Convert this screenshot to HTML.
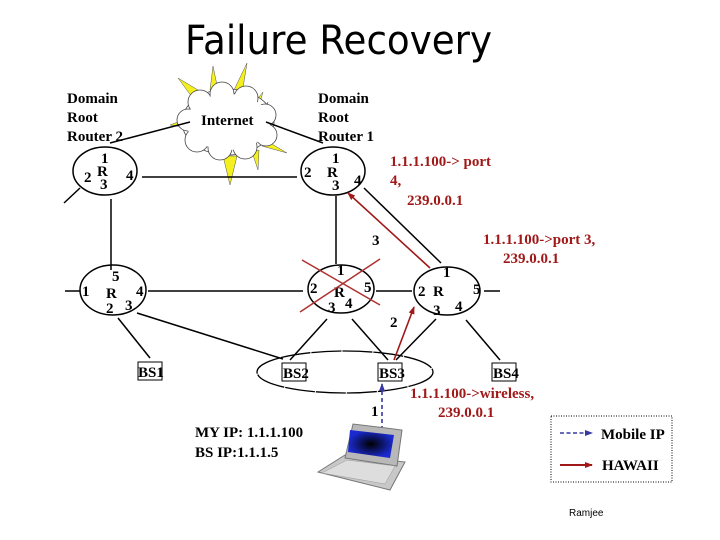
<!DOCTYPE html>
<html><head><meta charset="utf-8"><style>
html,body{margin:0;padding:0;background:#fff;width:720px;height:540px;overflow:hidden}
svg text{font-family:"Liberation Serif",serif;font-weight:bold;font-size:15px}
</style></head><body>
<svg width="720" height="540" viewBox="0 0 720 540" xmlns="http://www.w3.org/2000/svg">
<defs>
<marker id="ar" markerWidth="8" markerHeight="8" refX="7" refY="4" orient="auto" markerUnits="userSpaceOnUse"><path d="M0,1 L8,4 L0,7z" fill="#a01818"/></marker>
<marker id="ab" markerWidth="8" markerHeight="8" refX="7" refY="4" orient="auto" markerUnits="userSpaceOnUse"><path d="M0,1 L8,4 L0,7z" fill="#3838a0"/></marker>
<radialGradient id="scr"><stop offset="0" stop-color="#000"/><stop offset="1" stop-color="#1a2ad0"/></radialGradient>
</defs>
<text x="185" y="54" style="font-family:'DejaVu Sans',sans-serif;font-weight:normal;font-size:40px" textLength="307" lengthAdjust="spacingAndGlyphs">Failure Recovery</text>

<!-- cloud spikes -->
<g fill="#f4f020" stroke="#555" stroke-width="0.5">
<polygon points="213,66 210,90 218,90"/>
<polygon points="247,63 234,90 242,94"/>
<polygon points="178,78 192,97 198,90"/>
<polygon points="263,92 250,108 257,112"/>
<polygon points="268,102 258,118 264,121"/>
<polygon points="230,185 223,156 237,156"/>
<polygon points="258,170 252,152 259,150"/>
<polygon points="287,153 265,140 262,146"/>
<polygon points="170,125 188,118 189,128"/>
</g>
<g fill="#fff" stroke="#444" stroke-width="0.8">
<ellipse cx="228" cy="122" rx="46" ry="33"/>
<circle cx="200" cy="102" r="12"/><circle cx="222" cy="94" r="12"/><circle cx="246" cy="98" r="12"/>
<circle cx="265" cy="115" r="11"/><circle cx="266" cy="135" r="11"/><circle cx="245" cy="147" r="12"/>
<circle cx="220" cy="148" r="12"/><circle cx="197" cy="140" r="12"/><circle cx="188" cy="120" r="11"/>
</g>
<ellipse cx="228" cy="122" rx="42" ry="28" fill="#fff"/>
<text x="201" y="125">Internet</text>

<g stroke="#000" stroke-width="1.5" fill="none">
<line x1="110" y1="143" x2="190" y2="122"/>
<line x1="266" y1="122" x2="323" y2="143"/>
<line x1="142" y1="177" x2="297" y2="177"/>
<line x1="111" y1="199" x2="111" y2="270"/>
<line x1="80" y1="188" x2="64" y2="203"/>
<line x1="336" y1="196" x2="336" y2="264"/>
<line x1="364" y1="188" x2="441" y2="263"/>
<line x1="376" y1="291" x2="412" y2="291"/>
<line x1="484" y1="291" x2="500" y2="291"/>
<line x1="148" y1="291" x2="303" y2="291"/>
<line x1="65" y1="291" x2="80" y2="291"/>
<line x1="118" y1="318" x2="150" y2="358"/>
<line x1="137" y1="313" x2="283" y2="359"/>
<line x1="327" y1="319" x2="290" y2="360"/>
<line x1="352" y1="319" x2="388" y2="360"/>
<line x1="436" y1="319" x2="396" y2="360"/>
<line x1="466" y1="320" x2="500" y2="360"/>
<ellipse cx="105" cy="171" rx="32" ry="24"/>
<ellipse cx="333" cy="171" rx="32" ry="24"/>
<ellipse cx="113" cy="290" rx="33" ry="25"/>
<ellipse cx="341" cy="289" rx="33" ry="24"/>
<ellipse cx="447" cy="291" rx="33" ry="24"/>
</g>
<ellipse cx="345" cy="372" rx="88" ry="21" fill="none" stroke="#000" stroke-width="1.3" stroke-dasharray="30 1"/>

<!-- router labels -->
<text x="67" y="103">Domain</text><text x="67" y="122">Root</text><text x="67" y="141">Router 2</text>
<text x="318" y="103">Domain</text><text x="318" y="122">Root</text><text x="318" y="141">Router 1</text>
<g style="font-weight:normal">
<text x="101" y="163">1</text><text x="84" y="182">2</text><text x="97" y="176">R</text><text x="100" y="189">3</text><text x="126" y="180">4</text>
<text x="332" y="163">1</text><text x="304" y="177">2</text><text x="327" y="177">R</text><text x="332" y="190">3</text><text x="354" y="185">4</text>
<text x="112" y="281">5</text><text x="82" y="296">1</text><text x="106" y="298">R</text><text x="136" y="296">4</text><text x="106" y="313">2</text><text x="125" y="310">3</text>
<text x="337" y="275">1</text><text x="310" y="293">2</text><text x="334" y="297">R</text><text x="364" y="292">5</text><text x="328" y="312">3</text><text x="345" y="308">4</text>
<text x="443" y="277">1</text><text x="418" y="296">2</text><text x="433" y="296">R</text><text x="473" y="294">5</text><text x="433" y="315">3</text><text x="455" y="311">4</text>
<text x="372" y="245">3</text><text x="390" y="327">2</text><text x="371" y="416">1</text>
</g>
<!-- red X -->
<g stroke="#b03030" stroke-width="1.5"><line x1="302" y1="260" x2="380" y2="305"/><line x1="300" y1="312" x2="380" y2="259"/></g>

<!-- BS boxes -->
<g fill="none" stroke="#000" stroke-width="1"><rect x="138" y="362" width="24" height="18"/><rect x="282" y="363" width="24" height="18"/><rect x="378" y="363" width="24" height="18"/><rect x="492" y="363" width="24" height="18"/></g>
<text x="138" y="377">BS1</text><text x="283" y="378">BS2</text><text x="379" y="378">BS3</text><text x="493" y="378">BS4</text>

<!-- red arrows -->
<g stroke="#a01818" stroke-width="1.6"><line x1="430" y1="268" x2="348" y2="193" marker-end="url(#ar)"/><line x1="394" y1="360" x2="414" y2="307" marker-end="url(#ar)"/></g>
<line x1="382" y1="437" x2="382" y2="384" stroke="#3838a0" stroke-width="1.6" stroke-dasharray="4 3" marker-end="url(#ab)"/>

<!-- red labels -->
<g fill="#a01818">
<text x="390" y="166">1.1.1.100-&gt; port</text><text x="390" y="185">4,</text><text x="407" y="205">239.0.0.1</text>
<text x="483" y="244">1.1.1.100-&gt;port 3,</text><text x="503" y="263">239.0.0.1</text>
<text x="410" y="398">1.1.1.100-&gt;wireless,</text><text x="438" y="417">239.0.0.1</text>
</g>
<text x="195" y="437">MY IP: 1.1.1.100</text><text x="195" y="457">BS IP:1.1.1.5</text>

<!-- laptop -->
<polygon points="318,472 345,455 405,462 390,490" fill="#c8c8c8" stroke="#777"/>
<polygon points="345,458 353,424 402,430 397,466" fill="#b8b8b8" stroke="#777"/>
<polygon points="350,430 394,435 390,458 348,452" fill="url(#scr)"/>
<polygon points="322,473 347,460 395,466 385,484" fill="#ddd" stroke="#999" stroke-width="0.5"/>

<!-- legend -->
<rect x="551" y="416" width="121" height="66" fill="none" stroke="#000" stroke-dasharray="1 1.5"/>
<line x1="560" y1="433" x2="592" y2="433" stroke="#3838a0" stroke-width="1.6" stroke-dasharray="4 2.5" marker-end="url(#ab)"/>
<line x1="560" y1="465" x2="592" y2="465" stroke="#a01818" stroke-width="2" marker-end="url(#ar)"/>
<text x="601" y="439">Mobile IP</text><text x="602" y="470">HAWAII</text>
<text x="569" y="516" style="font-family:'Liberation Sans',sans-serif;font-weight:normal;font-size:10px">Ramjee</text>
</svg>
</body></html>
